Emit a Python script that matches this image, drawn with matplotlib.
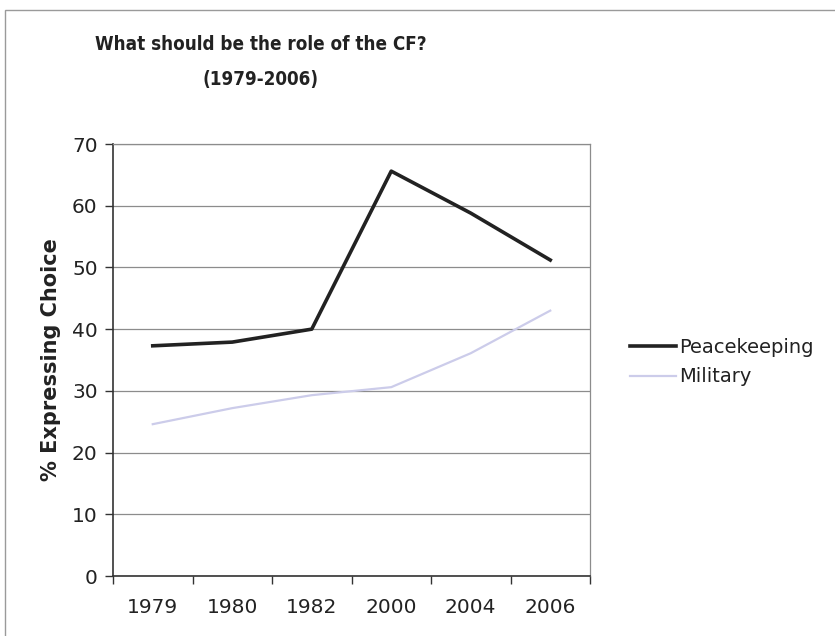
import matplotlib
matplotlib.use("Agg")
import matplotlib.pyplot as plt
import numpy as np
from matplotlib.patches import Rectangle

years = ["1979", "1980", "1982", "2000", "2004", "2006"]
peacekeeping = [37.3, 37.9, 40.0, 65.6, 58.8, 51.2]
military = [24.6, 27.2, 29.3, 30.6, 36.1, 43.0]
yticks = [0, 10, 20, 30, 40, 50, 60, 70]

fig = plt.figure(figsize=(8.35, 6.36), dpi=100)
fig.patch.set_facecolor("white")
fig.patches.append(Rectangle((5/835, -0.01), 1.2, 1 - 10/636 + 0.01, transform=fig.transFigure,
                             fill=False, edgecolor="#9a9a9a", linewidth=1.0))

ax = fig.add_axes([113/835, 60/636, (590-113)/835, (576-144)/636])
x = np.arange(len(years))
ax.plot(x, peacekeeping, color="#222222", linewidth=2.6, label="Peacekeeping")
ax.plot(x, military, color="#ccccea", linewidth=1.6, label="Military")

ax.set_xlim(-0.5, len(years) - 0.5)
ax.set_ylim(0, 70)
ax.set_yticks(yticks)
ax.set_yticklabels([str(v) for v in yticks], fontsize=14.5, color="#222222")
ax.set_xticks(x)
ax.set_xticklabels(years, fontsize=14.5, color="#222222")
ax.set_xticks(np.arange(-0.5, len(years)), minor=True)
ax.tick_params(axis="x", which="major", length=0, pad=16)
ax.tick_params(axis="x", which="minor", length=6, color="#333333", width=1)
ax.tick_params(axis="y", length=6, color="#333333", width=1, pad=5)
ax.yaxis.grid(True, color="#8c8c8c", linewidth=0.9)
ax.set_axisbelow(True)
for s in ["left", "bottom"]:
    ax.spines[s].set_color("#333333")
    ax.spines[s].set_linewidth(1.2)
for s in ["top", "right"]:
    ax.spines[s].set_color("#8c8c8c")
    ax.spines[s].set_linewidth(0.9)

ax.set_ylabel("% Expressing Choice", fontsize=15, fontweight="bold", color="#222222", labelpad=8)

fig.text(261/835, 1 - 45/636, "What should be the role of the CF?", ha="center", va="center",
         fontsize=13.5, fontweight="bold", fontstretch="condensed", color="#222222")
fig.text(261/835, 1 - 80/636, "(1979-2006)", ha="center", va="center",
         fontsize=13.5, fontweight="bold", fontstretch="condensed", color="#222222")

leg = fig.legend(loc="center left", bbox_to_anchor=(612/835, 1 - 362/636), frameon=False,
                 fontsize=14, handlelength=2.4, handletextpad=0.15, labelspacing=0.55)
for t in leg.get_texts():
    t.set_color("#222222")

fig.savefig("out.png", dpi=100)
